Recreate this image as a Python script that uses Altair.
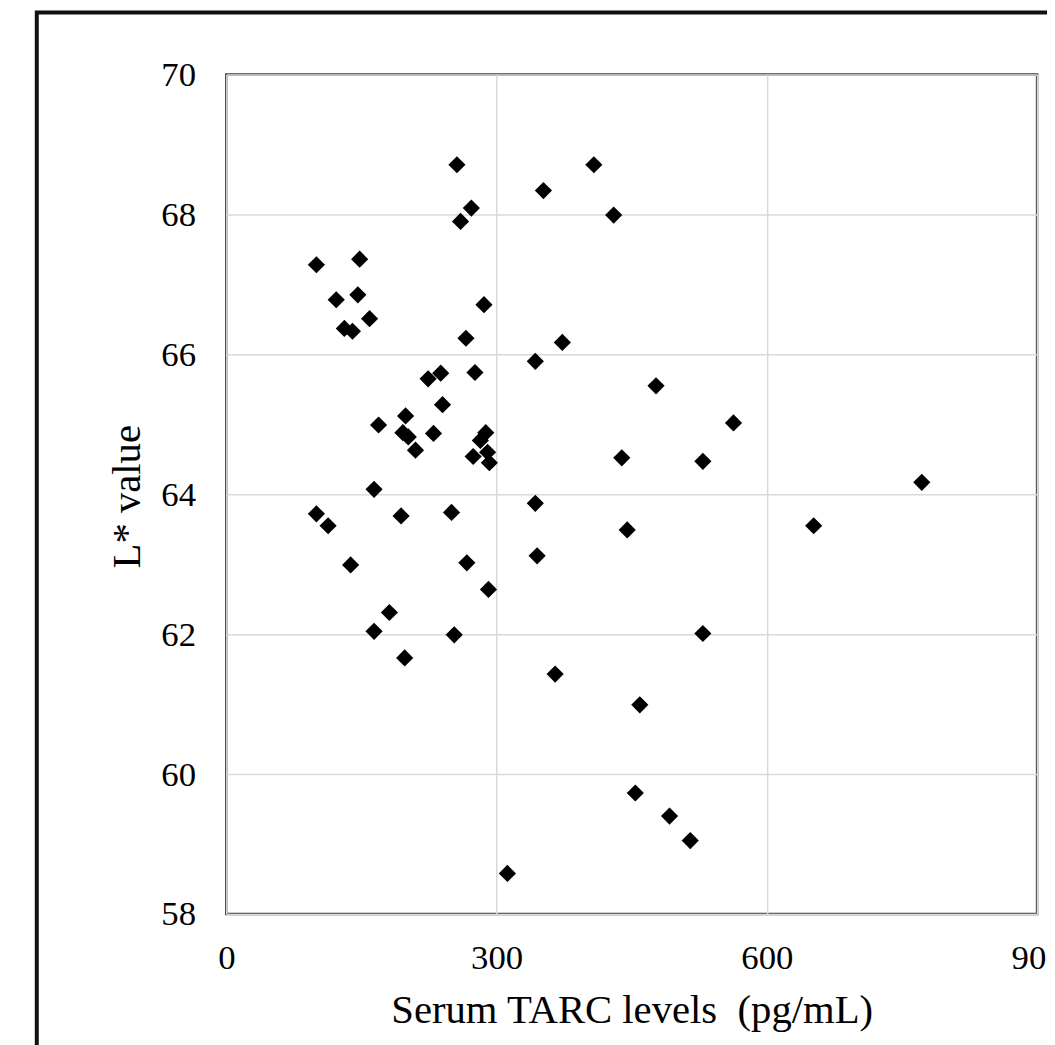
import altair as alt
import pandas as pd

# Serum TARC levels (pg/mL)
tarc = [256, 408, 352, 272, 260, 430, 100, 148, 122, 146,
        131, 140, 159, 286, 266, 373, 343, 224, 238, 276,
        477, 240, 169, 199, 563, 196, 202, 230, 288, 282,
        210, 274, 290, 292, 439, 529, 772, 164, 100, 113,
        194, 250, 343, 445, 652, 345, 138, 267, 291, 181,
        164, 253, 529, 198, 365, 459, 454, 492, 515, 312]
# L* value
lstar = [68.71, 68.71, 68.34, 68.09, 67.90, 67.99, 67.28, 67.36, 66.78, 66.85,
         66.37, 66.33, 66.51, 66.71, 66.23, 66.17, 65.90, 65.65, 65.73, 65.74,
         65.55, 65.28, 64.99, 65.12, 65.02, 64.88, 64.82, 64.87, 64.88, 64.77,
         64.63, 64.54, 64.60, 64.45, 64.52, 64.47, 64.17, 64.07, 63.72, 63.55,
         63.69, 63.74, 63.87, 63.49, 63.55, 63.12, 62.99, 63.02, 62.64, 62.31,
         62.04, 61.99, 62.01, 61.66, 61.43, 60.99, 59.73, 59.40, 59.05, 58.58]

x_ticks = [0, 300, 600, 900]
y_ticks = [58, 60, 62, 64, 66, 68, 70]

df = pd.DataFrame({"tarc": tarc, "lstar": lstar})

FONT = "Liberation Serif"

points = alt.Chart(df).mark_point(
    shape="diamond", filled=True, color="black", opacity=1, size=300
).encode(
    x=alt.X(
        "tarc:Q",
        scale=alt.Scale(domain=[0, 900], nice=False, zero=False),
        axis=alt.Axis(
            values=x_ticks,
            title="Serum TARC levels\u00a0 (pg/mL)",
            grid=True,
            gridColor="#d9d9d9",
            gridWidth=1.5,
            domain=False,
            ticks=False,
            tickSize=0,
            labelFont=FONT,
            labelFontSize=35,
            labelColor="black",
            labelPadding=55,
            labelBaseline="alphabetic",
            labelFlush=False,
            labelOverlap=False,
            titleFont=FONT,
            titleFontSize=41,
            titleFontWeight="normal",
            titleColor="black",
            titleBaseline="alphabetic",
            titleY=109,
        ),
    ),
    y=alt.Y(
        "lstar:Q",
        scale=alt.Scale(domain=[58, 70], nice=False, zero=False),
        axis=alt.Axis(
            values=y_ticks,
            title="L* value",
            grid=True,
            gridColor="#d9d9d9",
            gridWidth=1.5,
            domain=False,
            ticks=False,
            tickSize=0,
            labelFont=FONT,
            labelFontSize=35,
            labelColor="black",
            labelPadding=31,
            labelFlush=False,
            labelOverlap=False,
            titleFont=FONT,
            titleFontSize=41,
            titleFontWeight="normal",
            titleColor="black",
            titleAngle=270,
            titleBaseline="alphabetic",
            titleAlign="center",
            titleX=-87,
            titleY=425,
        ),
    ),
)

frame = alt.Chart(alt.Data(values=[{}])).mark_rect(
    fill=None, stroke="#111111", strokeWidth=4, clip=False
).encode(
    x=alt.value(-191),
    x2=alt.value(1200),
    y=alt.value(-62.5),
    y2=alt.value(1200),
)

chart = alt.layer(frame, points).properties(
    width=817,
    height=846,
    autosize=alt.AutoSizeParams(type="none"),
    padding={"left": 220, "top": 63, "right": 10, "bottom": 128},
    background="white",
).configure_view(
    stroke="#404040",
    strokeWidth=2.5,
)

chart.save("out.html", embed_options={"renderer": "svg", "actions": False})
